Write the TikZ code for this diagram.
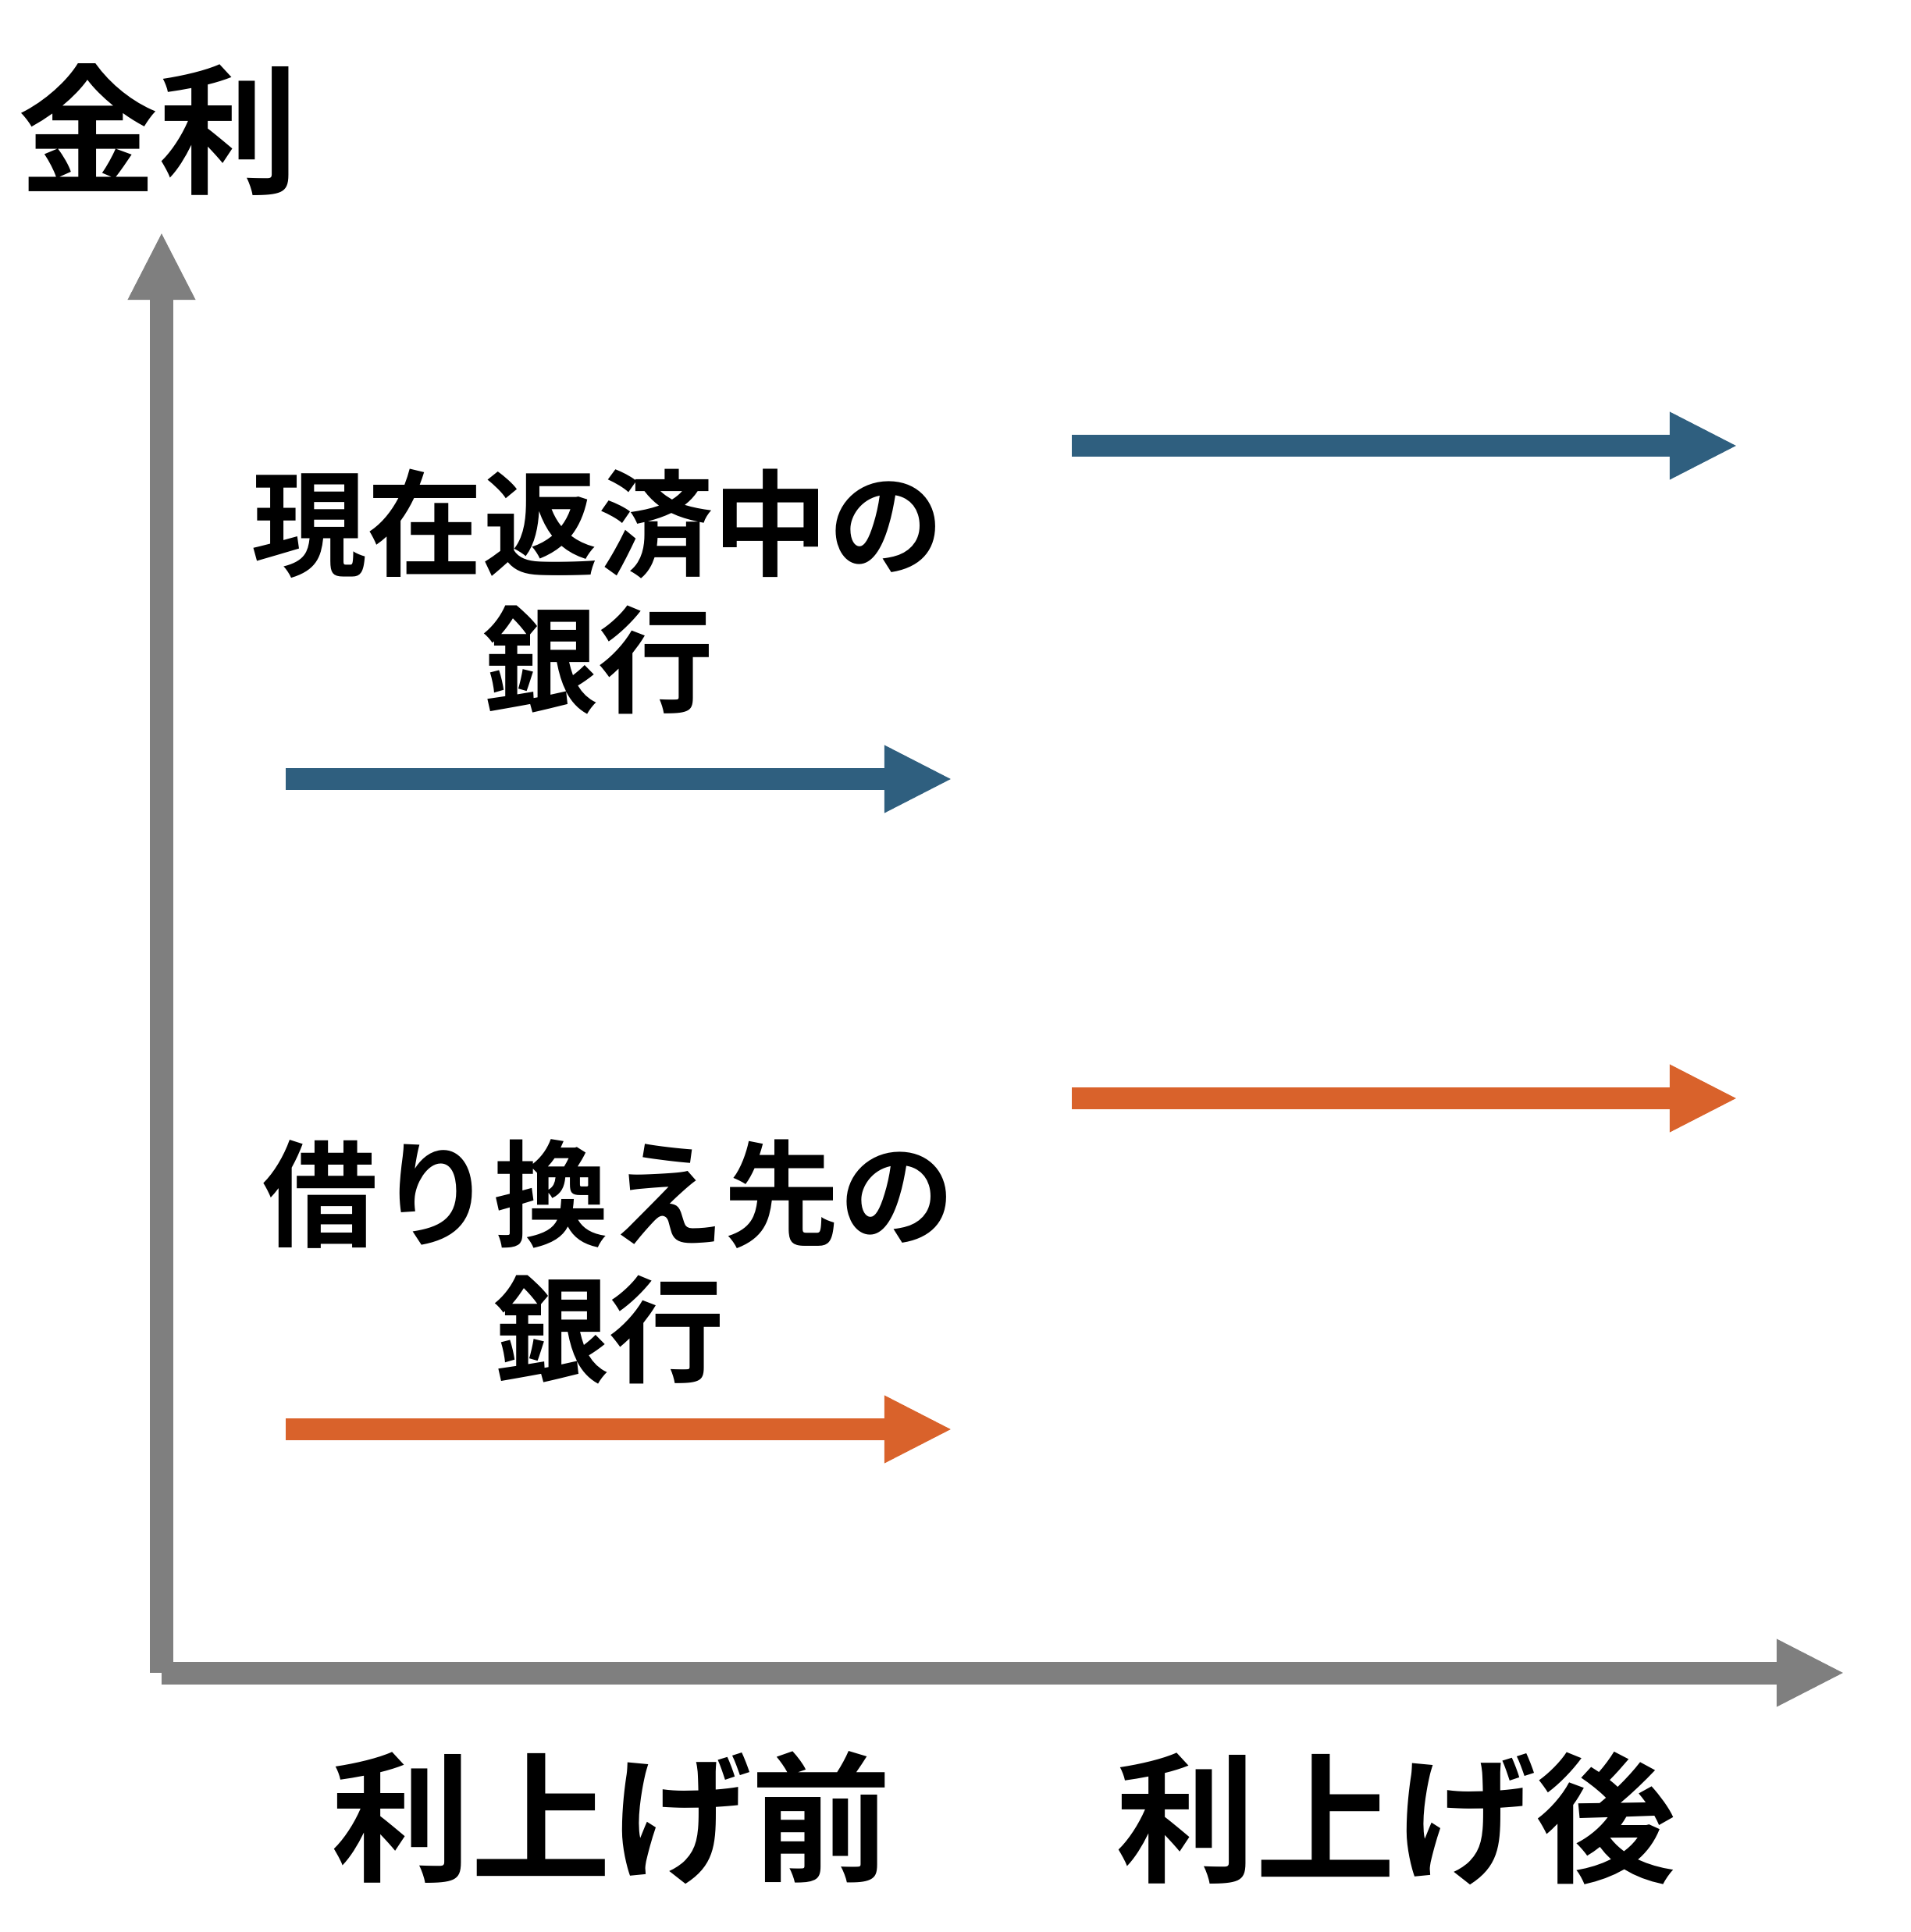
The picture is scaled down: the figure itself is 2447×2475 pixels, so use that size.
\documentclass[tikz,border=0pt]{standalone}
\usepackage{fontspec}
\newfontfamily\cjk{Noto Sans CJK JP}[BoldFont={* Bold}]
\usetikzlibrary{arrows.meta}

\definecolor{axisgray}{HTML}{7F7F7F}
\definecolor{bankblue}{HTML}{2F5F7F}
\definecolor{bankorange}{HTML}{D9622B}

\begin{document}
\begin{tikzpicture}[
  x=0.01cm, y=-0.01cm,
  axis/.style={line width=2.9mm, axisgray, -{Triangle[length=8.7mm, width=8.0mm]}},
  rate/.style={line width=2.8mm, -{Triangle[length=8.7mm, width=8.0mm]}},
  lbl/.style={font=\cjk\bfseries\fontsize{42}{49.5}\selectfont, align=center, inner sep=0pt},
  ttl/.style={font=\cjk\bfseries\fontsize{51}{60}\selectfont, inner sep=0pt}
]
\useasboundingbox (0,0) rectangle (2447,2475);

%% ── Axes ─────────────────────────────────────────────────────
\coordinate (org)  at (207, 2143);
\coordinate (ytop) at (207, 297);
\coordinate (xend) at (2363, 2143);

\draw[axis] (org) -- (ytop);
\draw[axis] (org) -- (xend);

\node[ttl] (rate)   at (203, 166)  {金利};
\node[ttl] (before) at (783, 2329) {利上げ前};
\node[ttl] (after)  at (1788, 2329) {利上げ後};

%% ── Current bank (blue) ──────────────────────────────────────
\node[lbl] (cur) at (766, 758) {現在返済中の\\銀行};

\coordinate (cb0) at (366, 998);
\coordinate (cb1) at (1220, 998);
\coordinate (ca0) at (1373, 571);
\coordinate (ca1) at (2226, 571);

\draw[rate, bankblue] (cb0) -- (cb1);
\draw[rate, bankblue] (ca0) -- (ca1);

%% ── Refinance bank (orange) ──────────────────────────────────
\node[lbl] (ref) at (780, 1616) {借り換え先の\\銀行};

\coordinate (rb0) at (366, 1831);
\coordinate (rb1) at (1220, 1831);
\coordinate (ra0) at (1373, 1407);
\coordinate (ra1) at (2226, 1407);

\draw[rate, bankorange] (rb0) -- (rb1);
\draw[rate, bankorange] (ra0) -- (ra1);

\end{tikzpicture}
\end{document}
